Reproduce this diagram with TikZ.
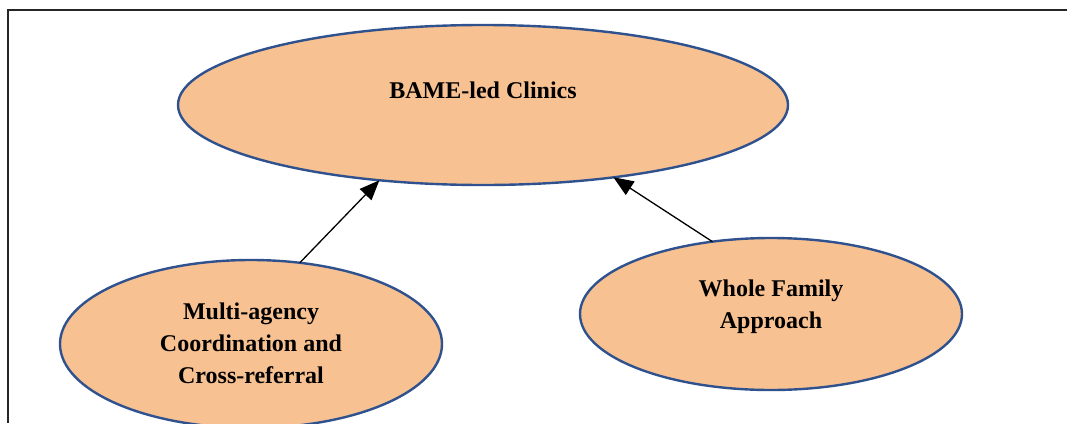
\documentclass[tikz,border=0pt]{standalone}
\usepackage{fontspec}
\setmainfont{Liberation Serif}
\usetikzlibrary{shapes.geometric,arrows.meta}
\definecolor{peach}{HTML}{F8C191}
\definecolor{rim}{HTML}{2F528F}
\tikzset{
  oval/.style={ellipse, draw=rim, fill=peach, line width=2.4pt, inner sep=0pt, outer sep=0pt},
  lbl/.style={align=center, font=\fontsize{24}{32}\selectfont\bfseries, inner sep=0pt},
  link/.style={line width=1.3pt, -{Triangle[length=20pt,width=16pt]}},
  frameline/.style={line width=2pt, black!85}
}
\begin{document}
\begin{tikzpicture}[x=1pt,y=-1pt]
\clip (0,0) rectangle (1067,423);
\fill[white] (0,0) rectangle (1067,423);
\coordinate (fa) at (7.5,423);
\coordinate (fb) at (7.5,9.5);
\coordinate (fc) at (1067,9.5);
\draw[frameline] (fa) -- (fb) -- (fc);
\node[oval, minimum width=610pt, minimum height=160pt] (top) at (483,105) {};
\node[lbl] (toplbl) at (483,90) {BAME-led Clinics};
\node[oval, minimum width=382pt, minimum height=168pt] (bl) at (251,344) {};
\node[lbl] (bllbl) at (251,343) {Multi-agency\\Coordination and\\Cross-referral};
\node[oval, minimum width=382pt, minimum height=152pt] (br) at (771,314) {};
\node[lbl] (brlbl) at (771,307) {Whole Family\\Approach};
\draw[link] (bl.59) -- (top.216);
\draw[link] (br.129.5) -- (top.331);
\end{tikzpicture}
\end{document}
